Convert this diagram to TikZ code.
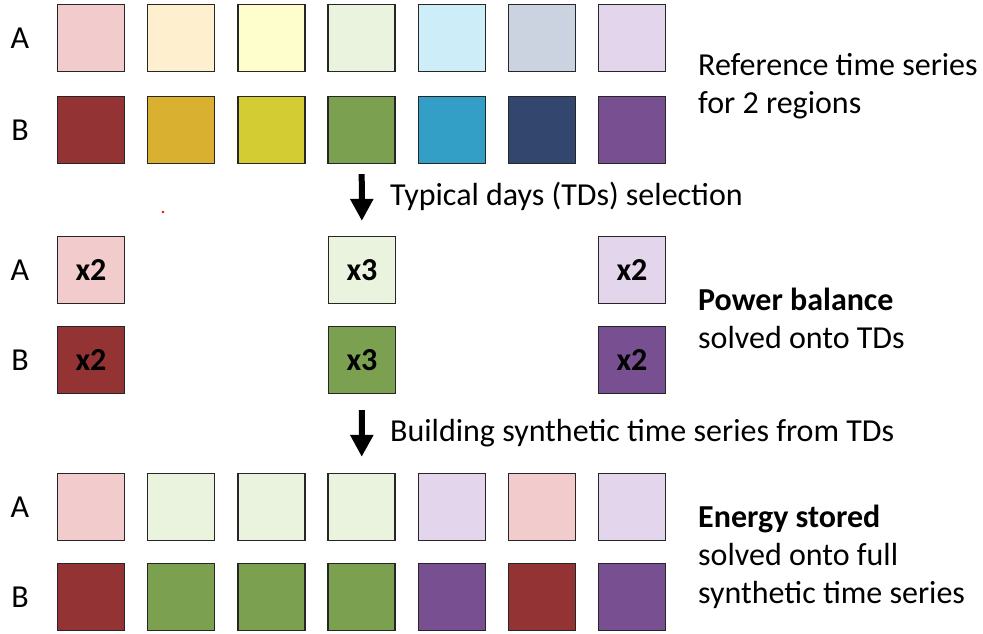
\documentclass[tikz,border=0pt]{standalone}
\usepackage{fontspec}
\setmainfont{Carlito}
\usetikzlibrary{arrows.meta,positioning}

\definecolor{redA}{HTML}{F2CBCC}
\definecolor{orangeA}{HTML}{FEF0CE}
\definecolor{yellowA}{HTML}{FEFDCC}
\definecolor{greenA}{HTML}{E9F3DD}
\definecolor{cyanA}{HTML}{CDEEF8}
\definecolor{navyA}{HTML}{CCD3E0}
\definecolor{purpleA}{HTML}{E3D5EC}
\definecolor{redB}{HTML}{943334}
\definecolor{orangeB}{HTML}{DAB030}
\definecolor{yellowB}{HTML}{D3CD33}
\definecolor{greenB}{HTML}{7BA150}
\definecolor{cyanB}{HTML}{339FC7}
\definecolor{navyB}{HTML}{33466D}
\definecolor{purpleB}{HTML}{784F91}

\begin{document}
\begin{tikzpicture}[x=1pt,y=-1pt,
  every node/.style={font=\fontsize{32}{38}\selectfont},
  day/.style={rectangle,draw=black!85,line width=1.3pt,minimum size=67pt,inner sep=0pt,
    font=\fontsize{32}{38}\selectfont\bfseries},
  region/.style={anchor=center},
  note/.style={align=left,anchor=west,inner sep=0pt},
  flow/.style={line width=6pt,-{Triangle[length=22pt,width=22pt]}}
]
\useasboundingbox (0,0) rectangle (983,633);

% reference time series
\foreach \c [count=\i] in {redA,orangeA,yellowA,greenA,cyanA,navyA,purpleA}
  \node[day,fill=\c] (tA\i) at ({91+90.2*(\i-1)},38) {};
\foreach \c [count=\i] in {redB,orangeB,yellowB,greenB,cyanB,navyB,purpleB}
  \node[day,fill=\c] (tB\i) at ({91+90.2*(\i-1)},130) {};
\node[region] (ltA) at (20,38) {A};
\node[region] (ltB) at (20,130) {B};
\node[note] (ref) at (698,86) {Reference time series\\for 2 regions};

% typical days
\node[day,fill=redA] (mA1) at (91,270) {x2};
\node[day,fill=greenA] (mA4) at (362,270) {x3};
\node[day,fill=purpleA] (mA7) at (632,270) {x2};
\node[day,fill=redB] (mB1) at (91,360) {x2};
\node[day,fill=greenB] (mB4) at (362,360) {x3};
\node[day,fill=purpleB] (mB7) at (632,360) {x2};
\node[region] (lmA) at (20,270) {A};
\node[region] (lmB) at (20,360) {B};
\node[note] (pow) at (698,318) {\textbf{Power balance}\\solved onto TDs};

% synthetic time series
\foreach \c [count=\i] in {redA,greenA,greenA,greenA,purpleA,redA,purpleA}
  \node[day,fill=\c] (bA\i) at ({91+90.2*(\i-1)},507) {};
\foreach \c [count=\i] in {redB,greenB,greenB,greenB,purpleB,redB,purpleB}
  \node[day,fill=\c] (bB\i) at ({91+90.2*(\i-1)},597) {};
\node[region] (lbA) at (20,507) {A};
\node[region] (lbB) at (20,597) {B};
\node[note] (nrg) at (698,557) {\textbf{Energy stored}\\solved onto full\\synthetic time series};

% steps
\draw[flow,shorten <=10pt,shorten >=15pt] (tB4) -- (mA4);
\node[note] (sel) at (390,196) {Typical days (TDs) selection};
\draw[flow,shorten <=16pt,shorten >=16pt] (mB4) -- (bA4);
\node[note] (syn) at (390,433) {Building synthetic time series from TDs};

\fill[red] (163,212) circle (1.3pt);
\end{tikzpicture}
\end{document}
